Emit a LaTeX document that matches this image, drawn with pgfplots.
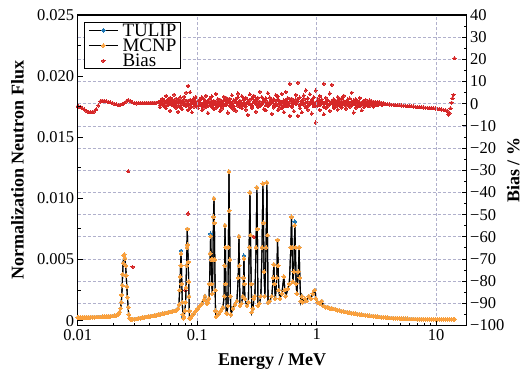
\documentclass[border=0pt]{standalone}
\usepackage{fontspec}
\setmainfont{Liberation Serif}
\usepackage{pgfplots}
\usepackage{pgfplotstable}
\pgfplotsset{compat=1.18}
\definecolor{cblue}{RGB}{31,119,180}
\definecolor{corange}{RGB}{250,160,60}
\definecolor{cred}{RGB}{214,39,40}
\definecolor{cgrid}{RGB}{176,176,204}
\pgfplotsset{
  /pgfplots/mylegimg/.style={legend image code/.code={\draw[mark repeat=2,mark phase=2,##1] plot coordinates {(0pt,0pt) (14.5pt,0pt) (29pt,0pt)};}}
}

\pgfplotstableread{
E t m
0.0100 0.00025 0.00025
0.0102 0.00025 0.00025
0.010493 0.00025 0.00025
0.010904 0.00025 0.00025
0.011332 0.00026 0.00026
0.011776 0.00026 0.00026
0.012238 0.00027 0.00027
0.012718 0.00027 0.00027
0.013217 0.00028 0.00028
0.013735 0.00028 0.00028
0.014274 0.00029 0.00029
0.014834 0.00030 0.00030
0.015416 0.00030 0.00030
0.016020 0.00031 0.00031
0.016649 0.00032 0.00032
0.017302 0.00033 0.00033
0.017980 0.00034 0.00034
0.018685 0.00035 0.00035
0.019418 0.00037 0.00037
0.020180 0.00039 0.00039
0.020971 0.00043 0.00043
0.021794 0.00050 0.00050
0.022433 0.0007 0.0007
0.022868 0.0010 0.0010
0.023178 0.0015 0.0015
0.023400 0.0021 0.0021
0.023580 0.0029 0.0029
0.023764 0.0038 0.0038
0.023993 0.0047 0.0047
0.024317 0.0053 0.0053
0.024601 0.0054 0.0054
0.024885 0.0051 0.0051
0.025176 0.0045 0.0045
0.025466 0.0037 0.0037
0.025761 0.0028 0.0028
0.026061 0.0019 0.0019
0.026415 0.0011 0.0011
0.026721 0.0005 0.0005
0.027083 0.0002 0.0002
0.027451 0.00012 0.00012
0.027984 0.0001 0.0001
0.028528 0.00011 0.00011
0.029647 0.00012 0.00012
0.030810 0.00014 0.00014
0.032018 0.00017 0.00017
0.033274 0.00020 0.00020
0.034579 0.00023 0.00023
0.035935 0.00026 0.00026
0.037344 0.00029 0.00029
0.038809 0.00032 0.00032
0.040331 0.00035 0.00035
0.041913 0.00038 0.00038
0.043557 0.00041 0.00041
0.045265 0.00044 0.00044
0.047040 0.00048 0.00048
0.048885 0.00052 0.00052
0.050802 0.00055 0.00055
0.052795 0.00058 0.00058
0.054865 0.00062 0.00062
0.057017 0.00066 0.00066
0.059253 0.00070 0.00070
0.061577 0.00074 0.00074
0.063992 0.00078 0.00078
0.066502 0.00085 0.00085
0.067792 0.0009 0.0009
0.069110 0.0010 0.0010
0.070451 0.0013 0.0013
0.071266 0.0025 0.0025
0.072100 0.0036 0.0036
0.072653 0.0045 0.0045
0.073213 0.0057 0.0055
0.073780 0.0045 0.0045
0.074348 0.0030 0.0030
0.075070 0.0015 0.0015
0.075794 0.0005 0.0005
0.076525 0.0003 0.0002
0.077564 0.0003 0.0003
0.079070 0.0008 0.0008
0.079985 0.0015 0.0015
0.080606 0.0027 0.0027
0.081388 0.0045 0.0045
0.082009 0.0060 0.0060
0.082645 0.0075 0.0075
0.083282 0.0062 0.0062
0.084094 0.0048 0.0048
0.084898 0.0032 0.0032
0.085392 0.0020 0.0020
0.085886 0.0008 0.0008
0.086381 0.0002 0.0002
0.087896 0.0002 0.0002
0.090466 0.0004 0.0004
0.094014 0.0006 0.0006
0.097701 0.0008 0.0008
0.10153 0.0010 0.0010
0.10552 0.0012 0.0012
0.10966 0.0014 0.0014
0.11396 0.0017 0.0017
0.11617 0.0020 0.0020
0.11843 0.0016 0.0016
0.12073 0.0014 0.0014
0.12308 0.0015 0.0015
0.12547 0.0018 0.0018
0.12669 0.0030 0.0030
0.12864 0.0055 0.0055
0.12963 0.0071 0.0069
0.13089 0.0050 0.0050
0.13240 0.0030 0.0030
0.13394 0.0022 0.0022
0.13550 0.0050 0.0050
0.13681 0.0085 0.0085
0.13813 0.0100 0.0100
0.13919 0.0080 0.0080
0.14027 0.0050 0.0050
0.14136 0.0025 0.0025
0.14244 0.0008 0.0008
0.14355 0.0003 0.0003
0.14633 0.0004 0.0004
0.15207 0.0006 0.0006
0.15804 0.0008 0.0008
0.16424 0.0011 0.0011
0.16808 0.0020 0.0020
0.16937 0.0045 0.0045
0.17068 0.0078 0.0078
0.17234 0.0060 0.0060
0.17364 0.0030 0.0030
0.17500 0.0006 0.0006
0.17737 0.0006 0.0006
0.18082 0.0012 0.0012
0.18257 0.0060 0.0060
0.18433 0.0122 0.0122
0.18612 0.0090 0.0090
0.18791 0.0050 0.0050
0.18973 0.0020 0.0020
0.19156 0.0005 0.0005
0.19907 0.0010 0.0010
0.20688 0.0013 0.0013
0.21499 0.0016 0.0016
0.22044 0.0035 0.0035
0.22342 0.0069 0.0069
0.22559 0.0045 0.0045
0.22776 0.0012 0.0012
0.23443 0.0014 0.0014
0.24129 0.0020 0.0020
0.24409 0.0035 0.0035
0.24598 0.0053 0.0051
0.24837 0.0030 0.0030
0.25075 0.0018 0.0018
0.26059 0.0012 0.0012
0.26823 0.0015 0.0015
0.27237 0.0060 0.0060
0.27607 0.0105 0.0105
0.27927 0.0070 0.0070
0.28305 0.0030 0.0030
0.28690 0.0007 0.0007
0.29247 0.0010 0.0010
0.29815 0.0018 0.0018
0.30393 0.0020 0.0020
0.31105 0.0060 0.0060
0.31585 0.0109 0.0109
0.31892 0.0075 0.0075
0.32199 0.0012 0.0012
0.33142 0.0014 0.0014
0.34111 0.0020 0.0020
0.34910 0.0060 0.0060
0.35449 0.0112 0.0112
0.35859 0.0080 0.0080
0.36279 0.0040 0.0040
0.36839 0.0020 0.0020
0.37701 0.0060 0.0060
0.38284 0.0113 0.0113
0.38727 0.0070 0.0070
0.39180 0.0015 0.0015
0.40558 0.0016 0.0016
0.42149 0.0020 0.0020
0.43215 0.0035 0.0035
0.43802 0.0046 0.0046
0.44310 0.0030 0.0030
0.45085 0.0018 0.0018
0.46402 0.0035 0.0035
0.47030 0.0066 0.0066
0.47578 0.0045 0.0045
0.48222 0.0025 0.0025
0.49159 0.0018 0.0018
0.51099 0.0022 0.0022
0.53103 0.0036 0.0036
0.54133 0.0025 0.0025
0.55186 0.0020 0.0020
0.57350 0.0026 0.0026
0.59030 0.0030 0.0030
0.60755 0.0060 0.0060
0.61578 0.0085 0.0085
0.62295 0.0060 0.0060
0.63138 0.0032 0.0032
0.64365 0.0040 0.0040
0.65614 0.0081 0.0078
0.66373 0.0060 0.0060
0.67277 0.0030 0.0030
0.68187 0.0022 0.0022
0.70186 0.0040 0.0040
0.71271 0.0060 0.0060
0.72238 0.0035 0.0035
0.73639 0.0016 0.0016
0.75071 0.0020 0.0020
0.76527 0.0015 0.0015
0.79528 0.0018 0.0018
0.82648 0.0016 0.0016
0.85888 0.0020 0.0020
0.89257 0.0018 0.0018
0.92757 0.0022 0.0022
0.96394 0.0025 0.0025
0.98268 0.0018 0.0018
1.0212 0.0015 0.0015
1.0613 0.0014 0.0014
1.1029 0.0016 0.0016
1.1462 0.0012 0.0012
1.1911 0.0011 0.0011
1.2378 0.0011 0.0011
1.2864 0.0010 0.0010
1.3368 0.0010 0.0010
1.3893 0.00095 0.00095
1.4437 0.0009 0.0009
1.5003 0.00085 0.00085
1.5592 0.0008 0.0008
1.6203 0.00077 0.00077
1.6839 0.00073 0.00073
1.7499 0.0007 0.0007
1.8185 0.00067 0.00067
1.8898 0.00064 0.00064
1.9639 0.00061 0.00061
2.0410 0.00058 0.00058
2.1210 0.00056 0.00056
2.2042 0.00053 0.00053
2.2906 0.0005 0.0005
2.3804 0.00048 0.00048
2.4738 0.00046 0.00046
2.5708 0.00043 0.00043
2.6716 0.00041 0.00041
2.7764 0.00039 0.00039
2.8853 0.00037 0.00037
2.9985 0.00035 0.00035
3.1160 0.00033 0.00033
3.2382 0.00031 0.00031
3.3652 0.00030 0.00030
3.4972 0.00028 0.00028
3.6343 0.00026 0.00026
3.7768 0.00025 0.00025
3.9249 0.00024 0.00024
4.0789 0.00022 0.00022
4.2388 0.00021 0.00021
4.4050 0.0002 0.0002
4.5778 0.00019 0.00019
4.7573 0.00018 0.00018
4.9439 0.00017 0.00017
5.1378 0.00016 0.00016
5.3393 0.00016 0.00016
5.5487 0.00015 0.00015
5.7663 0.00015 0.00015
5.9924 0.00014 0.00014
6.2274 0.00014 0.00014
6.4716 0.00013 0.00013
6.7254 0.00013 0.00013
6.9892 0.00012 0.00012
7.2633 0.00012 0.00012
7.5481 0.00012 0.00012
7.8441 0.00011 0.00011
8.1517 0.00011 0.00011
8.4714 0.00011 0.00011
8.8036 0.00011 0.00011
9.1488 0.0001 0.0001
9.5076 0.0001 0.0001
9.8805 0.0001 0.0001
10.268 0.0001 0.0001
10.671 0.0001 0.0001
11.089 0.0001 0.0001
11.524 0.0001 0.0001
11.976 0.0001 0.0001
12.446 0.0001 0.0001
12.934 0.0001 0.0001
13.441 0.0001 0.0001
13.968 0.0001 0.0001
14.24 0.0001 0.0001
}\fluxtab

\pgfplotstableread{
E b1 b2 b3 b4
0.0100 -1.2 nan nan nan
0.0102 -1.3 nan nan nan
0.010493 -1.4 nan nan nan
0.010904 -2.0 nan nan nan
0.011332 -2.6 nan nan nan
0.011776 -3.2 nan nan nan
0.012238 -3.7 nan nan nan
0.012718 -3.9 nan nan nan
0.013217 -3.9 nan nan nan
0.013735 -3.5 nan nan nan
0.014274 -2.5 nan nan nan
0.014834 -0.8 nan nan nan
0.015416 1.0 nan nan nan
0.016020 1.4 nan nan nan
0.016649 1.3 nan nan nan
0.017302 1.1 nan nan nan
0.017980 0.8 nan nan nan
0.018685 0.6 nan nan nan
0.019418 0.3 nan nan nan
0.020180 0.0 nan nan nan
0.020971 -0.3 nan nan nan
0.021794 -0.5 nan nan nan
0.022648 -0.5 nan nan nan
0.023536 -0.3 nan nan nan
0.024459 0.3 nan nan nan
0.025418 1.0 nan nan nan
0.026415 1.6 nan nan nan
0.027451 1.3 nan nan nan
0.028528 0.6 nan nan nan
0.029647 0.2 nan nan nan
0.030810 0.1 nan nan nan
0.032018 0.2 nan nan nan
0.033274 0.3 nan nan nan
0.034579 0.3 nan nan nan
0.035935 0.3 nan nan nan
0.037344 0.4 nan nan nan
0.038809 0.4 nan nan nan
0.040331 0.4 nan nan nan
0.041913 0.5 nan nan nan
0.043557 0.5 nan nan nan
0.045265 0.5 nan nan nan
0.047040 0.6 nan nan nan
0.048885 1.0 -1.5 0.4 -0.6
0.050802 2.2 0.3 -0.2 1.1
0.052795 -0.8 1.6 0.9 -1.2
0.054865 3.5 -2.0 0.1 0.7
0.057017 0.4 1.9 -0.7 1.5
0.059253 -3.2 2.6 0.6 -0.3
0.061577 1.1 -0.6 -0.4 2.0
0.063992 4.1 0.0 1.2 -1.0
0.066502 -1.8 2.3 0.2 0.5
0.069110 0.9 -3.6 -0.9 1.8
0.071820 2.8 -0.9 0.7 -1.6
0.074637 -2.4 1.4 0.0 0.9
0.077564 3.2 0.2 -0.6 1.9
0.080606 -1.1 5.0 1.0 -0.5
0.083767 8.0 -2.8 0.3 1.3
0.087052 1.7 5.2 -0.8 -1.9
0.090466 -3.9 0.6 1.1 0.4
0.094014 2.5 -1.3 -0.1 1.7
0.097701 0.1 3.0 0.8 -1.1
0.10153 -2.1 1.2 -0.5 0.6
0.10552 2.0 -0.4 0.5 1.6
0.10966 -3.0 2.9 -1.0 -0.2
0.11396 0.7 -1.7 0.2 2.1
0.11843 3.6 1.0 -0.3 -1.4
0.12308 -0.9 -4.2 1.1 0.8
0.12790 2.4 0.5 -0.7 1.9
0.13292 -1.6 3.3 0.6 -0.9
0.13813 1.3 -2.5 -0.2 0.4
0.14355 4.4 0.0 0.9 -1.8
0.14918 -0.5 2.1 -0.9 1.2
0.15503 1.8 -3.4 0.4 0.0
0.16111 -2.2 0.9 1.2 -1.3
0.16743 3.1 -0.7 -0.4 1.5
0.17399 0.3 2.7 0.1 -0.6
0.18082 -4.0 1.5 0.8 2.2
0.18791 2.2 -1.0 -0.6 0.7
0.19528 -0.2 3.8 0.3 -1.9
0.20294 1.6 -2.6 -1.1 1.0
0.21090 -3.1 0.8 0.7 2.0
0.21917 2.9 4.6 -0.1 -0.8
0.22776 -1.4 0.4 1.0 1.4
0.23670 3.4 -2.0 -0.8 -0.4
0.24598 0.6 1.9 0.4 2.3
0.25563 -2.7 2.6 -0.3 -1.2
0.26565 1.0 -5.0 1.1 0.3
0.27607 4.2 -0.3 0.0 1.8
0.28690 -1.9 2.4 -1.0 -0.7
0.29815 0.9 3.5 0.6 1.1
0.30984 -3.6 1.3 -0.2 2.0
0.32199 2.6 -0.8 0.9 -1.5
0.33462 -1.2 5.4 -0.5 0.9
0.34774 3.0 0.2 0.2 -0.3
0.36138 -2.4 1.7 1.2 1.6
0.37555 1.4 -3.0 -0.7 2.4
0.39028 4.8 -0.1 0.5 -1.1
0.40558 0.5 2.8 -0.1 0.6
0.42149 -4.6 1.1 0.8 1.9
0.43802 2.0 -1.7 -0.9 -0.6
0.45519 -0.6 3.9 0.3 1.3
0.47304 3.3 -2.9 -0.4 2.1
0.49159 1.2 0.0 1.1 -1.7
0.51099 -2.1 4.4 0.0 0.8
0.53103 0.4 -3.8 -1.1 1.5
0.55186 5.3 1.6 0.6 -0.9
0.57350 -1.0 2.5 -0.3 0.3
0.59599 9.0 -5.5 0.9 2.2
0.61936 2.2 -1.4 -0.6 -1.3
0.64365 -3.3 0.7 0.4 1.2
0.66889 4.0 1.9 -0.2 0.0
0.69512 9.5 -5.5 1.0 1.9
0.72238 -2.0 2.8 -0.8 -0.5
0.75071 0.8 -3.9 0.5 1.4
0.78015 3.7 0.1 -0.4 2.3
0.81075 -1.5 6.0 0.7 -1.6
0.84254 2.4 -2.7 -1.0 0.9
0.87558 0.0 4.3 0.2 -0.2
0.90992 -4.4 1.5 1.1 1.7
0.94560 2.9 -1.2 -0.5 0.5
0.98268 6.0 -8.5 0.3 -1.0
1.0212 -0.8 2.2 0.9 1.3
1.0613 3.5 -2.8 -0.7 0.1
1.1029 1.0 0.3 0.4 1.9
1.1462 9.0 -4.8 -0.2 -1.4
1.1911 -1.9 2.7 0.8 0.7
1.2378 1.6 -0.4 -0.9 1.5
1.2864 4.6 -3.2 0.1 -0.4
1.3368 8.5 0.9 0.6 1.1
1.3893 -2.0 2.0 -0.4 -1.2
1.4437 1.2 -1.0 0.9 0.6
1.5003 3.0 -2.6 -0.1 1.6
1.5592 -0.5 1.8 0.5 -0.8
1.6203 2.5 -1.7 -0.7 0.3
1.6839 0.3 3.6 0.2 1.2
1.7499 -2.3 0.9 0.8 -0.9
1.8185 1.9 -0.6 -0.3 0.9
1.8898 -1.4 2.4 0.4 -0.5
1.9639 5.0 -0.2 -0.6 1.0
2.0410 -4.0 1.5 0.7 -0.3
2.1210 2.0 -1.9 -0.2 0.8
2.2042 0.6 1.2 0.3 -0.7
2.2906 -1.2 2.6 -0.4 0.6
2.3804 -3.0 0.4 0.5 -0.2
2.4738 1.4 -1.5 -0.1 0.7
2.5708 0.2 1.7 0.4 -0.5
2.6716 -1.0 0.8 -0.3 0.4
2.7764 1.5 -0.9 0.2 -0.4
2.8853 -0.4 1.0 -0.2 0.5
2.9985 0.9 -1.3 0.3 -0.1
3.1160 -0.7 0.6 0.0 0.3
3.2382 0.8 -0.5 -0.1 0.2
3.3652 -0.3 0.6 0.2 -0.1
3.4972 0.4 -0.6 -0.1 0.1
3.6343 0.1 -0.2 0.0 0.2
3.7768 -0.2 nan nan nan
3.9249 -0.3 nan nan nan
4.0789 -0.35 nan nan nan
4.2388 -0.4 nan nan nan
4.4050 -0.5 nan nan nan
4.5778 -0.6 nan nan nan
4.7573 -0.7 nan nan nan
4.9439 -0.75 nan nan nan
5.1378 -0.8 nan nan nan
5.3393 -0.9 nan nan nan
5.5487 -1.0 nan nan nan
5.7663 -1.05 nan nan nan
5.9924 -1.1 nan nan nan
6.2274 -1.2 nan nan nan
6.4716 -1.3 nan nan nan
6.7254 -1.4 nan nan nan
6.9892 -1.5 nan nan nan
7.2633 -1.55 nan nan nan
7.5481 -1.6 nan nan nan
7.8441 -1.7 nan nan nan
8.1517 -1.8 nan nan nan
8.4714 -1.85 nan nan nan
8.8036 -1.9 nan nan nan
9.1488 -2.0 nan nan nan
9.5076 -2.1 nan nan nan
9.8805 -2.2 nan nan nan
10.268 -2.3 nan nan nan
10.671 -2.45 nan nan nan
11.089 -2.6 nan nan nan
11.524 -2.8 nan nan nan
11.976 -3.0 nan nan nan
12.446 -3.3 nan nan nan
12.687 -5.0 nan nan nan
12.934 -4.2 nan nan nan
13.185 -2.0 nan nan nan
13.441 0.5 nan nan nan
13.702 2.5 nan nan nan
13.968 4.0 nan nan nan
14.24 20.5 nan nan nan
0.026415 -30.5 nan nan nan
0.0288 -73.6 nan nan nan
0.07984 -84 nan nan nan
0.083767 -49.5 nan nan nan
0.29815 -60 nan nan nan
}\biastab

\begin{document}
\begin{tikzpicture}
\begin{axis}[
  width=389pt, height=310.5pt, scale only axis,
  xmode=log, xmin=0.01, xmax=18,
  hide x axis,
  axis y line*=right,
  tick align=inside,
  major tick length=5pt, minor tick length=3pt,
  every tick/.style={black, line width=0.9pt},
  axis line style={black, line width=1.1pt},
  tick label style={font=\fontsize{16.5}{16.5}\selectfont},
  ymin=-100, ymax=40,
  ytick={-100,-90,-80,-70,-60,-50,-40,-30,-20,-10,0,10,20,30,40},
  yticklabels={−100,−90,−80,−70,−60,−50,−40,−30,−20,−10,0,10,20,30,40},
  minor y tick num=1,
  ymajorgrids,
  grid style={cgrid, dash pattern=on 3pt off 2pt, line width=0.7pt},
  ylabel={Bias / \%},
  ylabel style={font=\fontsize{18}{18}\selectfont\bfseries, at={(axis description cs:1.1195,0.5)}, anchor=center, inner sep=0pt},
]
\addplot[cred, only marks, mark=*, mark size=1.6pt, mark options={color=cred, fill=cred, line width=0pt}] table[x=E, y=b1] {\biastab};
\addplot[cred, only marks, mark=*, mark size=1.6pt, mark options={color=cred, fill=cred, line width=0pt}] table[x=E, y=b2] {\biastab};
\addplot[cred, only marks, mark=*, mark size=1.6pt, mark options={color=cred, fill=cred, line width=0pt}] table[x=E, y=b3] {\biastab};
\addplot[cred, only marks, mark=*, mark size=1.6pt, mark options={color=cred, fill=cred, line width=0pt}] table[x=E, y=b4] {\biastab};
\end{axis}
\begin{axis}[
  width=389pt, height=310.5pt, scale only axis,
  xmode=log, xmin=0.01, xmax=18,
  tick align=inside,
  major tick length=5pt, minor tick length=3pt,
  every tick/.style={black, line width=0.9pt},
  axis line style={black, line width=1.1pt},
  tick label style={font=\fontsize{16.5}{16.5}\selectfont},
  ymin=-0.0004, ymax=0.025,
  scaled y ticks=false,
  ytick pos=left, xtick pos=left,
  ytick={0,0.005,0.010,0.015,0.020,0.025},
  yticklabels={0,0.005,0.010,0.015,0.020,0.025},
  minor y tick num=1,
  xtick={0.01,0.1,1,10},
  xticklabels={0.01,0.1,1,10},
  minor xtick={},
  xmajorgrids,
  grid style={cgrid, dash pattern=on 3pt off 2pt, line width=0.7pt},
  xlabel={Energy / MeV},
  xlabel style={font=\fontsize{18}{18}\selectfont\bfseries, at={(axis description cs:0.5,0)}, anchor=north, inner sep=0pt, yshift=-28pt},
  ylabel={Normalization Neutron Flux},
  ylabel style={font=\fontsize{18}{18}\selectfont\bfseries, at={(axis description cs:-0.1548,0.5)}, anchor=center, inner sep=0pt},
  legend cell align=left,
  legend style={at={(axis description cs:0.0162,0.9775)}, anchor=north west,
    draw=black, line width=0.8pt, fill=white,
    font=\fontsize{19}{15}\selectfont,
    row sep=0.9pt, inner xsep=4pt, inner ysep=0.7pt,
    /tikz/every odd column/.append style={column sep=3.5pt},
    nodes={inner sep=0.5pt, text height=12.6pt, text depth=0.8pt}},
]
\addplot[black, line width=1.1pt, mark=*, mark size=1.9pt, mark options={color=cblue, fill=cblue, line width=0pt}, mylegimg] table[x=E, y=t] {\fluxtab};
\addlegendentry{TULIP}
\addplot[black, line width=1.1pt, mark=*, mark size=1.9pt, mark options={color=corange, fill=corange, line width=0pt}, mylegimg] table[x=E, y=m] {\fluxtab};
\addlegendentry{MCNP}
\addlegendimage{cred, only marks, mark=*, mark size=1.6pt, mark options={color=cred, fill=cred, line width=0pt}, mylegimg}
\addlegendentry{Bias}
\end{axis}
\pgfresetboundingbox
\path[use as bounding box] (-77.7pt,-44.5pt) rectangle (444.3pt,325.5pt);
\end{tikzpicture}
\end{document}
